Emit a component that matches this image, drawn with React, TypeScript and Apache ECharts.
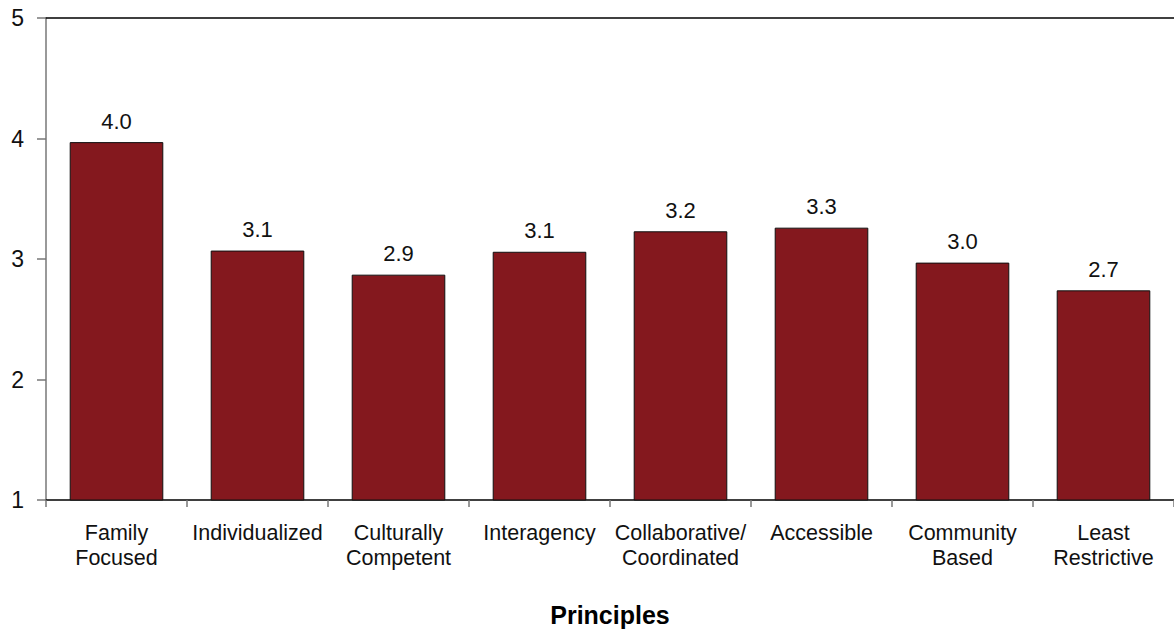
import React, { useEffect, useRef } from "react";
import * as echarts from "echarts";

const categories = [
  "Family\nFocused",
  "Individualized",
  "Culturally\nCompetent",
  "Interagency",
  "Collaborative/\nCoordinated",
  "Accessible",
  "Community\nBased",
  "Least\nRestrictive",
];
const values = [3.97, 3.07, 2.87, 3.06, 3.23, 3.26, 2.97, 2.74];
const yTicks = [1, 2, 3, 4, 5];
const xAxisTitle = "Principles";

export default function App() {
  const ref = useRef<HTMLDivElement>(null);
  useEffect(() => {
    document.body.style.margin = "0";
    const chart = echarts.init(ref.current!, undefined, { renderer: "svg" });
    const font = "'Liberation Sans', Arial, sans-serif";
    chart.setOption({
      animation: false,
      backgroundColor: "#ffffff",
      grid: { left: 46, right: -6, top: 18, bottom: 129, containLabel: false },
      xAxis: [
        {
          type: "category",
          data: categories,
          name: xAxisTitle,
          nameLocation: "middle",
          nameGap: 102,
          nameTextStyle: { fontFamily: font, fontSize: 25, fontWeight: "bold", color: "#000" },
          axisLine: { lineStyle: { color: "#000", width: 1.5 } },
          axisTick: { show: true, length: 7, lineStyle: { color: "#777", width: 1.5 } },
          axisLabel: {
            fontFamily: font,
            fontSize: 21.5,
            color: "#111",
            margin: 21,
            lineHeight: 24.5,
            interval: 0,
          },
        },
        {
          type: "category",
          data: categories,
          position: "top",
          axisLine: { show: true, lineStyle: { color: "#000", width: 1.5 } },
          axisTick: { show: false },
          axisLabel: { show: false },
        },
      ],
      yAxis: {
        type: "value",
        min: 1,
        max: 5,
        interval: 1,
        axisLine: { show: true, lineStyle: { color: "#777", width: 1.5 } },
        axisTick: { show: true, length: 9, lineStyle: { color: "#777", width: 1.5 } },
        splitLine: { show: false },
        axisLabel: {
          fontFamily: font,
          fontSize: 23,
          color: "#111",
          margin: 22,
          formatter: (v: number) => (yTicks.includes(v) ? String(v) : ""),
        },
      },
      series: [
        {
          type: "bar",
          data: values,
          barCategoryGap: "33.6%",
          itemStyle: { color: "#84181e", borderColor: "#111", borderWidth: 1 },
          label: {
            show: true,
            position: "top",
            distance: 10,
            fontFamily: font,
            fontSize: 22,
            color: "#111",
            formatter: (p: any) => Number(p.value).toFixed(1),
          },
        },
      ],
    });
    return () => chart.dispose();
  }, []);
  return (
    <div
      ref={ref}
      style={{ position: "absolute", left: 0, top: 0, width: 1174, height: 632 }}
    />
  );
}
